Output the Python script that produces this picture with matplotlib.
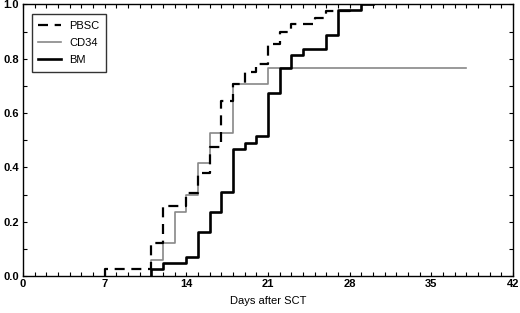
import matplotlib
matplotlib.use("Agg")
import matplotlib.pyplot as plt
from matplotlib.ticker import MultipleLocator

plt.rcParams['font.family'] = ['Liberation Sans', 'DejaVu Sans']

# cumulative incidence steps (day, value); first point is the start at 0
pbsc_days = [7, 7, 11, 12, 14, 15, 16, 17, 18, 19, 20, 21, 22, 23, 25, 26, 28, 29]
pbsc_vals = [0, 0.025, 0.12, 0.258, 0.305, 0.378, 0.474, 0.645, 0.706, 0.751, 0.78, 0.855, 0.898, 0.926, 0.95, 0.975, 1.0, 1.0]

cd34_days = [11, 11, 12, 13, 14, 15, 16, 18, 21, 38]
cd34_vals = [0, 0.059, 0.12, 0.236, 0.300, 0.416, 0.528, 0.706, 0.766, 0.766]

bm_days = [11, 11, 12, 14, 15, 16, 17, 18, 19, 20, 21, 22, 23, 24, 26, 27, 29, 30]
bm_vals = [0, 0.025, 0.049, 0.071, 0.163, 0.234, 0.308, 0.466, 0.49, 0.515, 0.675, 0.766, 0.8125, 0.837, 0.886, 0.978, 1.0, 1.0]

x_ticks = [0, 7, 14, 21, 28, 35, 42]
y_ticks = [0.0, 0.2, 0.4, 0.6, 0.8, 1.0]

fig = plt.figure(figsize=(5.2, 3.13), dpi=100)
ax = fig.add_axes([0.044, 0.118, 0.9425, 0.868])

ax.plot(pbsc_days, pbsc_vals, drawstyle='steps-post', color='black', lw=1.6,
        dashes=(4.5, 3), label='PBSC', zorder=3)
ax.plot(cd34_days, cd34_vals, drawstyle='steps-post', color='#888888', lw=1.2,
        label='CD34', zorder=2)
ax.plot(bm_days, bm_vals, drawstyle='steps-post', color='black', lw=1.9,
        label='BM', zorder=2)

ax.set_xlim(0, 42)
ax.set_ylim(0, 1.0)
ax.set_xticks(x_ticks)
ax.set_yticks(y_ticks)
ax.set_xticklabels([str(t) for t in x_ticks], fontweight='bold', fontsize=8)
ax.set_yticklabels(['%.1f' % t for t in y_ticks], fontweight='bold', fontsize=8)
ax.xaxis.set_minor_locator(MultipleLocator(1))
ax.yaxis.set_minor_locator(MultipleLocator(0.1))
ax.tick_params(which='both', direction='in', top=True, right=True,
               length=3, width=0.8, pad=3)
ax.tick_params(axis='x', which='major', pad=2)
for s in ax.spines.values():
    s.set_linewidth(1.0)

ax.set_xlabel('Days after SCT', fontsize=8, labelpad=5)

leg = ax.legend(loc='upper left', bbox_to_anchor=(0.018, 0.965), fontsize=8,
                frameon=True, fancybox=False, edgecolor='black',
                handlelength=2.0, labelspacing=0.65, borderpad=0.6,
                handletextpad=0.8, borderaxespad=0)
leg.get_frame().set_linewidth(1.0)

fig.savefig('out.png', dpi=100)
